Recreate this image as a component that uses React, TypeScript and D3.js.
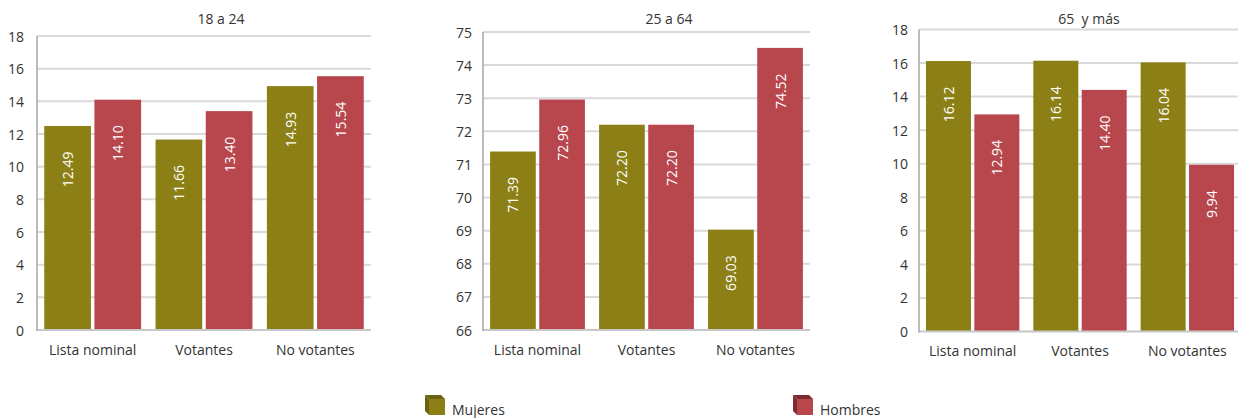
import React from 'react';
import * as d3 from 'd3';

const categories = ['Lista nominal', 'Votantes', 'No votantes'];
const seriesNames = ['Mujeres', 'Hombres'];

const titles = ['18 a 24', '25 a 64', '65  y más'];
const mujeres18 = [12.49, 11.66, 14.93];
const hombres18 = [14.1, 13.4, 15.54];
const mujeres25 = [71.39, 72.2, 69.03];
const hombres25 = [72.96, 72.2, 74.52];
const mujeres65 = [16.12, 16.14, 16.04];
const hombres65 = [12.94, 14.4, 9.94];
const ticks18 = [0, 2, 4, 6, 8, 10, 12, 14, 16, 18];
const ticks25 = [66, 67, 68, 69, 70, 71, 72, 73, 74, 75];
const ticks65 = [0, 2, 4, 6, 8, 10, 12, 14, 16, 18];

const COLORS = ['#8b7f16', '#b8474d'];
const DARK = ['#6b620f', '#7e2a30'];
const FONT = '"Open Sans", "Noto Sans", sans-serif';

interface PanelLayout {
  left: number; right: number; top: number; bottom: number;
  titleX: number; labelX: number;
}

const layouts: PanelLayout[] = [
  { left: 37, right: 371, top: 36, bottom: 330, titleX: 221, labelX: 24 },
  { left: 483, right: 810, top: 32, bottom: 330, titleX: 669, labelX: 472 },
  { left: 919, right: 1241, top: 29.5, bottom: 331.5, titleX: 1089, labelX: 908 },
];

const panels = [
  { title: titles[0], series: [mujeres18, hombres18], ticks: ticks18 },
  { title: titles[1], series: [mujeres25, hombres25], ticks: ticks25 },
  { title: titles[2], series: [mujeres65, hombres65], ticks: ticks65 },
];

function Panel({ p, L }: { p: typeof panels[number]; L: PanelLayout }) {
  const y = d3.scaleLinear()
    .domain([p.ticks[0], p.ticks[p.ticks.length - 1]])
    .range([L.bottom, L.top]);
  const x0 = d3.scaleBand<string>().domain(categories)
    .range([L.left, L.right]).paddingInner(0.13).paddingOuter(0.065);
  const x1 = d3.scaleBand<number>().domain([0, 1])
    .range([0, x0.bandwidth()]).paddingInner(0.07);

  return (
    <g>
      <text x={L.titleX} y={18} textAnchor="middle" dominantBaseline="central"
        fontSize={14} fill="#333" style={{ whiteSpace: 'pre' }}>{p.title}</text>
      {p.ticks.map(t => (
        <g key={t}>
          {t !== p.ticks[0] && (
            <line x1={L.left} x2={L.right} y1={y(t)} y2={y(t)} stroke="#d9d9d9" strokeWidth={2} />
          )}
          <text x={L.labelX} y={y(t)} textAnchor="end" dominantBaseline="central"
            fontSize={14} fill="#333">{t}</text>
        </g>
      ))}
      {categories.map((c, ci) => (
        <g key={c}>
          {p.series.map((vals, si) => {
            const bx = (x0(c) ?? 0) + (x1(si) ?? 0);
            const by = y(vals[ci]);
            const cx = bx + x1.bandwidth() / 2;
            return (
              <g key={si}>
                <rect x={bx} y={by} width={x1.bandwidth()} height={L.bottom - by} fill={COLORS[si]} />
                <text transform={`translate(${cx},${by + 25.5}) rotate(-90)`} textAnchor="end"
                  dominantBaseline="central" fontSize={14} fill="#fff">{vals[ci].toFixed(2)}</text>
              </g>
            );
          })}
          <text x={(x0(c) ?? 0) + x0.bandwidth() / 2} y={L.bottom + 19} textAnchor="middle"
            dominantBaseline="central" fontSize={14} fill="#333">{c}</text>
        </g>
      ))}
      <line x1={L.left} x2={L.right} y1={L.bottom} y2={L.bottom} stroke="#c8c8c8" strokeWidth={2} />
      <line x1={L.left} x2={L.left} y1={L.top} y2={L.bottom + 1} stroke="#a6a6a6" strokeWidth={1.5} />
    </g>
  );
}

function LegendItem({ x, i }: { x: number; i: number }) {
  const yy = 395;
  return (
    <g>
      <polygon points={`${x},${yy} ${x + 16},${yy} ${x + 20},${yy + 4} ${x + 4},${yy + 4}`} fill={DARK[i]} />
      <polygon points={`${x},${yy} ${x + 4},${yy + 4} ${x + 4},${yy + 20} ${x},${yy + 16}`} fill={DARK[i]} />
      <rect x={x + 4} y={yy + 4} width={16} height={16} fill={COLORS[i]} />
      <text x={x + 27} y={yy + 14} dominantBaseline="central" fontSize={14} fill="#333">{seriesNames[i]}</text>
    </g>
  );
}

export default function App() {
  return (
    <svg width={1238} height={418} style={{ position: 'absolute', left: 0, top: 0, fontFamily: FONT, background: '#fff' }}>
      {panels.map((p, i) => <Panel key={i} p={p} L={layouts[i]} />)}
      <LegendItem x={425} i={0} />
      <LegendItem x={793} i={1} />
    </svg>
  );
}
